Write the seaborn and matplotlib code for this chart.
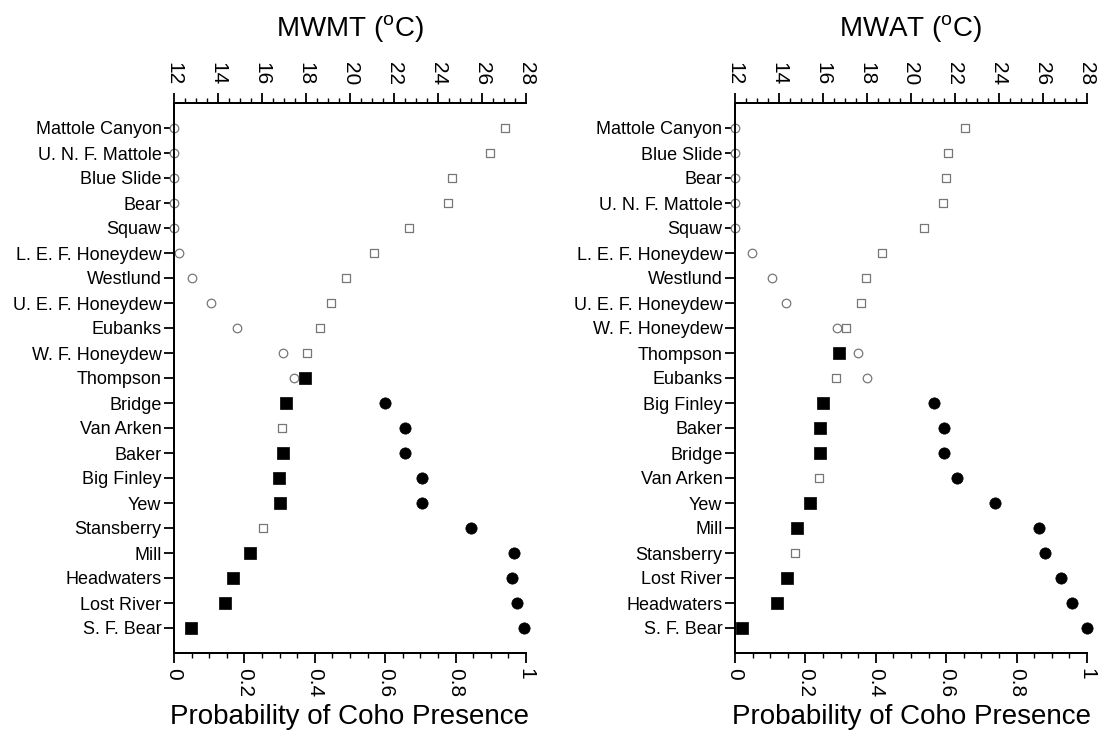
import numpy as np
import pandas as pd
import matplotlib
matplotlib.use("Agg")
import matplotlib.pyplot as plt
import seaborn as sns
from matplotlib.ticker import MultipleLocator

sns.set_theme(style="ticks")
plt.rcParams['font.family'] = ['Liberation Sans', 'DejaVu Sans']
plt.rcParams['mathtext.fontset'] = 'custom'
plt.rcParams['mathtext.rm'] = 'Liberation Sans'
plt.rcParams['axes.edgecolor'] = 'black'
plt.rcParams['axes.labelcolor'] = 'black'
plt.rcParams['text.color'] = 'black'
plt.rcParams['xtick.color'] = 'black'
plt.rcParams['ytick.color'] = 'black'

# ---------------- MWMT panel ----------------
mwmt_sites = ["Mattole Canyon", "U. N. F. Mattole", "Blue Slide", "Bear", "Squaw",
              "L. E. F. Honeydew", "Westlund", "U. E. F. Honeydew", "Eubanks",
              "W. F. Honeydew", "Thompson", "Bridge", "Van Arken", "Baker",
              "Big Finley", "Yew", "Stansberry", "Mill", "Headwaters",
              "Lost River", "S. F. Bear"]
mwmt_temp = [27.05, 26.35, 24.65, 24.45, 22.7, 21.1, 19.8, 19.15, 18.65, 18.05,
             17.95, 17.1, 16.9, 16.95, 16.75, 16.8, 16.05, 15.45, 14.7, 14.3, 12.75]
mwmt_prob = [0.0, 0.0, 0.0, 0.0, 0.0, 0.015, 0.05, 0.105, 0.18, 0.31,
             0.34, 0.60, 0.655, 0.655, 0.705, 0.705, 0.845, 0.965, 0.96, 0.975, 0.995]
mwmt_present = [0, 0, 0, 0, 0, 0, 0, 0, 0, 0, 1, 1, 0, 1, 1, 1, 0, 1, 1, 1, 1]

# ---------------- MWAT panel ----------------
mwat_sites = ["Mattole Canyon", "Blue Slide", "Bear", "U. N. F. Mattole", "Squaw",
              "L. E. F. Honeydew", "Westlund", "U. E. F. Honeydew", "W. F. Honeydew",
              "Thompson", "Eubanks", "Big Finley", "Baker", "Bridge", "Van Arken",
              "Yew", "Mill", "Stansberry", "Lost River", "Headwaters", "S. F. Bear"]
mwat_temp = [22.45, 21.7, 21.6, 21.45, 20.6, 18.7, 17.95, 17.75, 17.05, 16.75,
             16.6, 16.0, 15.85, 15.85, 15.8, 15.4, 14.8, 14.75, 14.35, 13.9, 12.3]
mwat_prob = [0.0, 0.0, 0.0, 0.0, 0.0, 0.047, 0.104, 0.144, 0.29, 0.35,
             0.375, 0.565, 0.595, 0.595, 0.63, 0.74, 0.865, 0.88, 0.925, 0.958, 1.0]
mwat_present = [0, 0, 0, 0, 0, 0, 0, 0, 0, 1, 0, 1, 1, 1, 0, 1, 1, 0, 1, 1, 1]

prob_ticks = [0, 0.2, 0.4, 0.6, 0.8, 1.0]
prob_ticklabels = ["0", "0.2", "0.4", "0.6", "0.8", "1"]
temp_ticks = [12, 14, 16, 18, 20, 22, 24, 26, 28]

panels = [
    ("MWMT ($^{\\rm o}$C)", mwmt_sites, mwmt_temp, mwmt_prob, mwmt_present),
    ("MWAT ($^{\\rm o}$C)", mwat_sites, mwat_temp, mwat_prob, mwat_present),
]

fig = plt.figure(figsize=(11.03, 7.38), dpi=100)
lefts = [174 / 1103, 735 / 1103]
W = 352 / 1103
B = 85 / 738
H = 550 / 738

OPEN_EC = '#777777'
S_FILL = 66
S_OPEN = 38

for left, (title, sites, temp, prob, present) in zip(lefts, panels):
    ax = fig.add_axes([left, B, W, H])
    df = pd.DataFrame({"site": sites, "temp": temp, "prob": prob,
                       "present": present})
    df["pos"] = np.arange(len(df))
    df["pred"] = df["prob"] > 0.5

    axt = ax.twiny()

    # probability circles (bottom axis)
    sns.scatterplot(data=df[~df["pred"]], x="prob", y="pos", ax=ax, marker="o",
                    s=S_OPEN, facecolors="white", edgecolor=OPEN_EC, linewidth=0.9,
                    clip_on=False, zorder=3)
    sns.scatterplot(data=df[df["pred"]], x="prob", y="pos", ax=ax, marker="o",
                    s=S_FILL, color="black", edgecolor="black", linewidth=0.5,
                    clip_on=False, zorder=3)
    # temperature squares (top axis)
    sns.scatterplot(data=df[df["present"] == 0], x="temp", y="pos", ax=axt,
                    marker="s", s=S_OPEN, facecolors="white", edgecolor=OPEN_EC,
                    linewidth=0.9, clip_on=False, zorder=3)
    sns.scatterplot(data=df[df["present"] == 1], x="temp", y="pos", ax=axt,
                    marker="s", s=S_FILL, color="black", edgecolor="black",
                    linewidth=0.5, clip_on=False, zorder=3)

    n = len(sites)
    ax.set_ylim(n, -1)
    ax.set_xlim(0, 1)
    axt.set_xlim(12, 28)
    ax.set_yticks(np.arange(n))
    ax.set_yticklabels(sites)
    ax.set_ylabel("")
    axt.set_ylabel("")

    ax.set_xticks(prob_ticks)
    ax.set_xticklabels(prob_ticklabels)
    ax.xaxis.set_minor_locator(MultipleLocator(0.05))
    axt.set_xticks(temp_ticks)
    axt.set_xticklabels([str(t) for t in temp_ticks])
    axt.xaxis.set_minor_locator(MultipleLocator(0.5))

    for a in (ax, axt):
        a.spines["right"].set_visible(False)
        for sp in a.spines.values():
            sp.set_linewidth(1.4)
    ax.tick_params(axis="x", which="major", direction="out", length=7, width=1.3,
                   labelsize=15, labelrotation=-90, pad=4)
    ax.tick_params(axis="x", which="minor", direction="out", length=3.5, width=1.0)
    axt.tick_params(axis="x", which="major", direction="out", length=7, width=1.3,
                    labelsize=15, labelrotation=-90, pad=6)
    axt.tick_params(axis="x", which="minor", direction="out", length=3.5, width=1.0)
    ax.tick_params(axis="y", direction="out", length=7, width=1.3, labelsize=13,
                   pad=2)
    axt.tick_params(axis="y", left=False, right=False, labelleft=False,
                    labelright=False)

    ax.set_xlabel("Probability of Coho Presence", fontsize=20, labelpad=5)
    axt.set_xlabel(title, fontsize=20, labelpad=18)

fig.savefig("out.png", dpi=100)
